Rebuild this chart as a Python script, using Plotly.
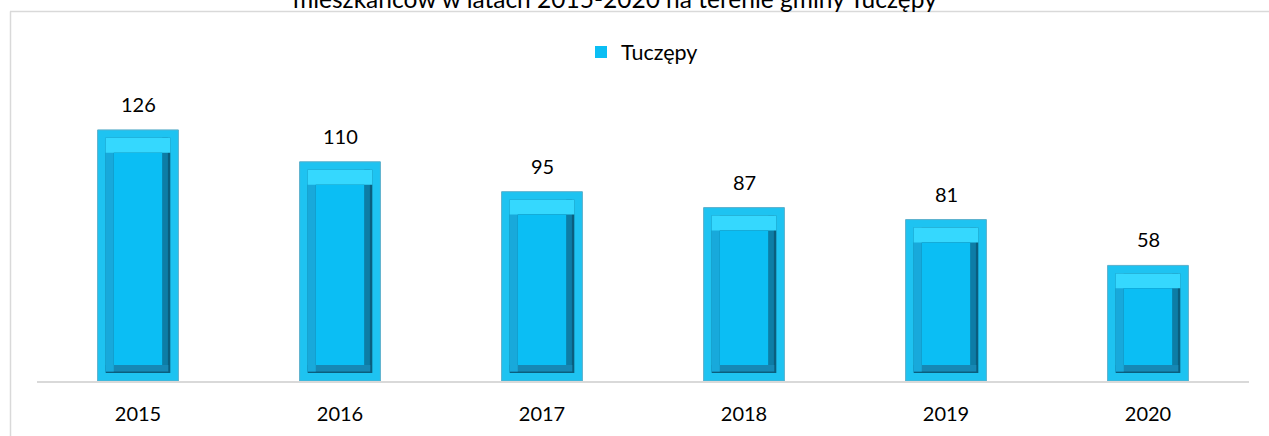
import plotly.graph_objects as go

# Liczba ... mieszkańców, gmina Tuczępy
years = ["2015", "2016", "2017", "2018", "2019", "2020"]
values = [126, 110, 95, 87, 81, 58]
series_name = "Tuczępy"
title_line = "mieszkańców w latach 2015-2020 na terenie gminy Tuczępy"

FONT = "Lato"
W, H = 1269, 436
ML, MR, MT, MB = 37, 20, 102, 55
Y_MAX = 140

# bevelled bar geometry (category units horizontally, value units vertically)
BAR_W = 0.40
FRAME = 0.04      # outer frame thickness, x
FRAME_Y = 4.0     # outer frame thickness, y
BEV_X = 0.04      # side bevel width
BEV_TOP = 7.5     # top bevel height
BEV_BOT = 4.0     # bottom bevel height

fig = go.Figure()


def band(x0, x1, y0_list, y1_list, color, line=None, name=None, legend=False):
    fig.add_trace(go.Bar(
        x=years,
        y=[b - a for a, b in zip(y0_list, y1_list)],
        base=y0_list,
        offset=x0,
        width=x1 - x0,
        marker=dict(color=color, line=line or dict(width=0)),
        name=name or series_name,
        showlegend=legend,
        hoverinfo="skip",
    ))


half = BAR_W / 2
inner = half - FRAME
zeros = [0 for _ in values]
n = len(values)

# outer frame
band(-half, half, zeros, values, "#1EC3F1", dict(color="#5BAFCB", width=1))
# inner recess: dark base (right / bottom edges)
band(-inner, inner, [FRAME_Y] * n, [v - FRAME_Y for v in values], "#0A5E7E")
# bottom bevel
band(-inner, inner - 0.01, [FRAME_Y + 0.8] * n, [FRAME_Y + BEV_BOT] * n, "#1688B5")
# left bevel
band(-inner, -inner + BEV_X, [FRAME_Y + 0.8] * n, [v - FRAME_Y for v in values], "#18A9DB")
# right bevel
band(inner - BEV_X, inner - 0.012, [FRAME_Y + BEV_BOT] * n,
     [v - FRAME_Y for v in values], "#0D7DA6")
# top bevel
band(-inner, inner, [v - FRAME_Y - BEV_TOP for v in values],
     [v - FRAME_Y for v in values], "#35D8FE")
# flat face
band(-inner + BEV_X, inner - BEV_X, [FRAME_Y + BEV_BOT] * n,
     [v - FRAME_Y - BEV_TOP for v in values], "#0BBEF4", legend=True)

# value labels above the bars
for i, v in enumerate(values):
    fig.add_annotation(x=i, y=v, xref="x", yref="y", text=str(v), showarrow=False,
                       yanchor="middle", yshift=26,
                       font=dict(family=FONT, size=20, color="#000000"))

PW = W - ML - MR
PH = H - MT - MB

# second line of the chart title (first line lies above the page)
fig.add_annotation(xref="paper", yref="paper",
                   x=(614.5 - ML) / PW, y=(H - MB + 1) / PH,
                   text=title_line, showarrow=False, xanchor="center", yanchor="middle",
                   font=dict(family=FONT, size=24.5, color="#000000"))

# chart-area border (left and top edges)
fig.add_shape(type="line", xref="paper", yref="paper",
              x0=(10.5 - ML) / PW, x1=(10.5 - ML) / PW,
              y0=(H - MB - 440) / PH, y1=(H - MB - 11.5) / PH,
              line=dict(color="#D9D9D9", width=1.5))
fig.add_shape(type="line", xref="paper", yref="paper",
              x0=(10 - ML) / PW, x1=(1275 - ML) / PW,
              y0=(H - MB - 11.5) / PH, y1=(H - MB - 11.5) / PH,
              line=dict(color="#D9D9D9", width=1.5))

fig.update_layout(
    width=W, height=H,
    margin=dict(l=ML, r=MR, t=MT, b=MB),
    barmode="overlay",
    paper_bgcolor="#FFFFFF", plot_bgcolor="#FFFFFF",
    font=dict(family=FONT, size=20, color="#000000"),
    showlegend=True,
    legend=dict(orientation="h", xanchor="left", yanchor="middle",
                x=(581 - ML) / PW, y=(H - MB - 52) / PH,
                font=dict(family=FONT, size=21.5, color="#000000"),
                itemwidth=30, bgcolor="rgba(0,0,0,0)"),
)
fig.update_xaxes(type="category", range=[-0.5, n - 0.5],
                 showline=True, linecolor="#D9D9D9", linewidth=2,
                 showgrid=False, ticks="", ticklabelstandoff=14,
                 tickfont=dict(family=FONT, size=20, color="#000000"))
fig.update_yaxes(range=[0, Y_MAX], visible=False, showgrid=False)

fig.write_html("out.html")
